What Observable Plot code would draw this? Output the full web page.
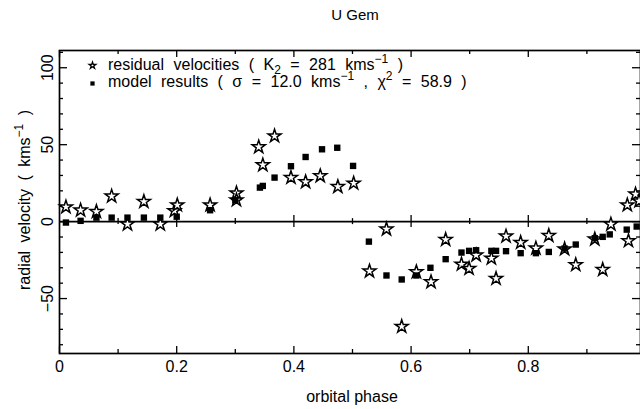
<!DOCTYPE html>
<html><head><meta charset="utf-8">
<script src="https://cdn.jsdelivr.net/npm/d3@7"></script>
<script src="https://cdn.jsdelivr.net/npm/@observablehq/plot@0.6"></script>
<style>body{margin:0;background:#fff;overflow:hidden} svg{display:block}</style>
</head><body><div id="chart"></div>
<script>
// Residual velocities (stars)
const starPhase = [0.011,0.036,0.063,0.089,0.116,0.144,0.172,0.196,0.201,0.257,0.302,0.302,0.340,0.347,0.367,0.395,0.420,0.445,0.475,0.502,
  0.529,0.558,0.584,0.609,0.634,0.659,0.686,0.699,0.711,0.737,0.745,0.762,0.787,0.813,0.835,0.862,0.881,0.9135,0.927,0.941,0.969,0.971,0.983,0.989];
const starVel = [9.5,7.4,6.5,16.5,-1.7,13,-1.7,7,10.8,10.8,18.6,14,48.5,36.8,55.6,28.6,25.8,29.7,22.7,24.9,
  -32.2,-4.9,-68.2,-32.7,-39.2,-11.7,-27.7,-30.5,-21.8,-23.8,-37,-9.5,-13.6,-17.3,-9.1,-17.8,-28.1,-11.4,-31.2,-1.7,10.8,-12.5,17.8,13.4];
// Model results (squares)
const modelPhase = [0.011,0.036,0.063,0.089,0.116,0.144,0.172,0.200,0.257,0.300,0.342,0.347,0.367,0.395,0.420,0.448,0.474,0.501,
  0.528,0.558,0.584,0.609,0.633,0.659,0.686,0.699,0.711,0.737,0.745,0.762,0.787,0.813,0.835,0.862,0.881,0.9135,0.927,0.939,0.968,0.985];
const modelVel = [-0.6,0.5,2.6,2.6,2.6,2.6,2.6,3.2,7.4,13.9,22.1,23.2,28.6,36,42,47,48,36.2,
  -13,-35,-37.6,-35,-30,-24.4,-20.1,-19,-18.6,-19,-19,-19.2,-20.5,-20.5,-19.7,-17.5,-14.9,-10.8,-9.9,-8.3,-5.2,-3.2];

const xMajor = [0,0.2,0.4,0.6,0.8];
const xMajorLabels = ["0","0.2","0.4","0.6","0.8"];
const xMinor = [0.1,0.3,0.5,0.7,0.9];
const yMajor = [-50,0,50,100];
const yMajorLabels = ["−50","0","50","100"];
const yMinor = [-80,-70,-60,-40,-30,-20,-10,10,20,30,40,60,70,80,90,110];

const titleText = "U Gem";
const xLabel = "orbital phase";

const stars = starPhase.map((p,i)=>({phase:p, v:starVel[i]}));
const models = modelPhase.map((p,i)=>({phase:p, v:modelVel[i]}));

const W = 640, H = 409, mL = 59, mR = 0, mT = 50, mB = 56;
const FW = W - mL - mR, FH = H - mT - mB;
const font = "'Liberation Sans', Arial, Helvetica, sans-serif";

const plot = Plot.plot({
  width: W, height: H,
  marginLeft: mL, marginRight: mR, marginTop: mT, marginBottom: mB,
  style: {fontFamily: font, background: "white"},
  x: {domain: [0, 0.9915], axis: null},
  y: {domain: [-85.7, 111.2], axis: null},
  marks: [
    Plot.ruleY([0], {stroke: "black", strokeWidth: 1.6}),
    // bottom ticks
    Plot.ruleX(xMajor, {insetTop: FH - 7, stroke: "black", strokeWidth: 1.3}),
    Plot.ruleX(xMinor, {insetTop: FH - 4, stroke: "black", strokeWidth: 1.3}),
    // top ticks
    Plot.ruleX(xMajor, {insetBottom: FH - 7, stroke: "black", strokeWidth: 1.3}),
    Plot.ruleX(xMinor, {insetBottom: FH - 4, stroke: "black", strokeWidth: 1.3}),
    // ticks on the zero axis
    Plot.ruleX(xMajor.slice(1), {y1: 0, y2: 0, insetTop: -6, insetBottom: -6, stroke: "black", strokeWidth: 1.3}),
    Plot.ruleX(xMinor, {y1: 0, y2: 0, insetTop: -3, insetBottom: -3, stroke: "black", strokeWidth: 1.3}),
    // left ticks
    Plot.ruleY(yMajor, {insetRight: FW - 8, stroke: "black", strokeWidth: 1.3}),
    Plot.ruleY(yMinor, {insetRight: FW - 4, stroke: "black", strokeWidth: 1.3}),
    // right ticks
    Plot.ruleY(yMajor, {insetLeft: FW - 8, stroke: "black", strokeWidth: 1.3}),
    Plot.ruleY(yMinor, {insetLeft: FW - 4, stroke: "black", strokeWidth: 1.3}),
    Plot.frame({stroke: "black", strokeWidth: 1.7}),
    // tick labels
    Plot.text(xMajor, {x: d => d, text: (d,i) => xMajorLabels[i], frameAnchor: "bottom", dy: 13, lineAnchor: "middle", fontSize: 16, fill: "black"}),
    Plot.text(yMajor, {y: d => d, text: (d,i) => yMajorLabels[i], frameAnchor: "left", dx: -12, rotate: -90, textAnchor: "middle", lineAnchor: "middle", fontSize: 16, fill: "black"}),
    // titles
    Plot.text([titleText], {text: d => d, frameAnchor: "top", dx: 5, dy: -35, lineAnchor: "middle", fontSize: 15, fill: "black"}),
    Plot.text([xLabel], {text: d => d, frameAnchor: "bottom", dx: 2, dy: 43, lineAnchor: "middle", fontSize: 16, fill: "black"}),
    // data
    Plot.dot(stars, {x: "phase", y: "v", symbol: "star", r: 4.1, fill: "white", stroke: "black", strokeWidth: 1.5}),
    Plot.dot(models, {x: "phase", y: "v", symbol: "square", r: 3.6, fill: "black", stroke: "none"}),
    // legend symbols
    Plot.dot([0], {frameAnchor: "top-left", dx: 33, dy: 15, symbol: "star", r: 2.1, fill: "white", stroke: "black", strokeWidth: 1.3}),
    Plot.dot([0], {frameAnchor: "top-left", dx: 33, dy: 33, symbol: "square", r: 2.4, fill: "black"})
  ]
});
document.getElementById("chart").appendChild(plot);

// rich text (sub/superscripts): legend and y-axis title
const svg = d3.select(plot);
function rich(g, parts) {
  parts.forEach(([t, kind]) => {
    const ts = g.append("tspan").text(t);
    if (kind === "sup") ts.attr("font-size", 12).attr("dy", -7);
    else if (kind === "sub") ts.attr("font-size", 12).attr("dy", 4);
    else if (kind === "back") ts.attr("dy", 7);
    else if (kind === "up") ts.attr("dy", -4);
  });
}
const leg1 = svg.append("text").attr("x", 108).attr("y", 69.5).attr("font-size", 16)
  .attr("text-anchor", "start").attr("font-family", font).attr("word-spacing", 5).attr("fill", "black");
rich(leg1, [["residual velocities ( K"],["2","sub"],[" = 281 kms","up"],["−1","sup"],[" )","back"]]);
const leg2 = svg.append("text").attr("x", 108).attr("y", 87).attr("font-size", 16)
  .attr("text-anchor", "start").attr("font-family", font).attr("word-spacing", 5).attr("fill", "black");
rich(leg2, [["model results ( σ = 12.0 kms"],["−1","sup"],[" , χ","back"],["2","sup"],[" = 58.9 )","back"]]);
const ylab = svg.append("text").attr("transform", "translate(30,200) rotate(-90)")
  .attr("text-anchor", "middle").attr("font-size", 16).attr("font-family", font)
  .attr("word-spacing", 4).attr("fill", "black");
rich(ylab, [["radial velocity ( kms"],["−1","sup"],[" )","back"]]);
</script>
</body></html>
